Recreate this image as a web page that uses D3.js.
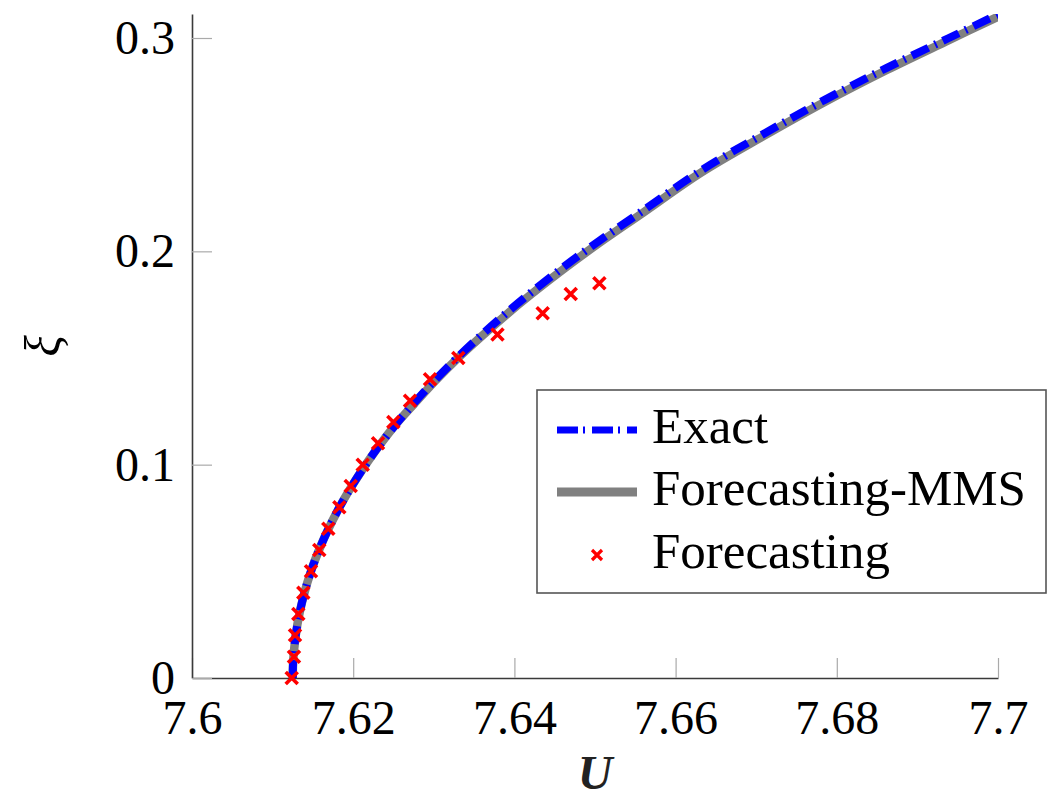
<!DOCTYPE html>
<html>
<head>
<meta charset="UTF-8">
<title>xi vs U</title>
<script src="https://cdn.jsdelivr.net/npm/d3@7"></script>
<style>
  body { margin: 0; background: #fff; }
  svg { display: block; font-family: "Liberation Serif", "Times New Roman", serif; }
</style>
</head>
<body>
<svg width="1047" height="801"></svg>
<script>
// values
const exactU  = [7.6125, 7.61252, 7.61263, 7.61307, 7.61381, 7.61485, 7.61598, 7.61694, 7.61815, 7.61935,
                 7.62102, 7.62286, 7.62510, 7.62757, 7.63024, 7.63314, 7.63597, 7.63897, 7.64216, 7.64622,
                 7.65055, 7.65592, 7.6632, 7.6709, 7.6785, 7.6862, 7.6939, 7.7000];
const exactXi = [0, 0.005, 0.012, 0.025, 0.038, 0.051, 0.062, 0.070, 0.079, 0.087,
                 0.097, 0.107, 0.118, 0.129, 0.140, 0.151, 0.161, 0.171, 0.181, 0.193,
                 0.205, 0.219, 0.238, 0.255, 0.271, 0.286, 0.300, 0.311];
const mmsU    = [7.6125, 7.61252, 7.61263, 7.61307, 7.61381, 7.61485, 7.61598, 7.61694, 7.61815, 7.61935,
                 7.62102, 7.62286, 7.62510, 7.62757, 7.63024, 7.63314, 7.63597, 7.63897, 7.64216, 7.64622,
                 7.65055, 7.65592, 7.6632, 7.6709, 7.6785, 7.6862, 7.6939, 7.7000];
const mmsXi   = [0, 0.005, 0.012, 0.025, 0.038, 0.051, 0.062, 0.070, 0.079, 0.087,
                 0.097, 0.107, 0.118, 0.1285, 0.1395, 0.1505, 0.1603, 0.1702, 0.1801, 0.1920,
                 0.2040, 0.2180, 0.2370, 0.2540, 0.2700, 0.2850, 0.2990, 0.3100];
const forecastU  = [7.61237, 7.61265, 7.61278, 7.61319, 7.61381, 7.61476, 7.61579, 7.61691, 7.61828, 7.61969,
                    7.62118, 7.62308, 7.62498, 7.62705, 7.62953, 7.63304, 7.63790, 7.64351, 7.64699, 7.65054];
const forecastXi = [0, 0.01, 0.02, 0.03, 0.04, 0.05, 0.06, 0.07, 0.08, 0.09,
                    0.10, 0.11, 0.12, 0.13, 0.14, 0.15, 0.161, 0.171, 0.180, 0.185];
const xTicks = [7.6, 7.62, 7.64, 7.66, 7.68, 7.7];
const yTicks = [0, 0.1, 0.2, 0.3];
const legendNames = ["Exact", "Forecasting-MMS", "Forecasting"];

const svg = d3.select("svg");
const plotLeft = 192, plotRight = 998, plotTop = 14, plotBottom = 678;

const x = d3.scaleLinear().domain([7.6, 7.7]).range([plotLeft, plotRight]);
const y = d3.scaleLinear().domain([0, 0.31125]).range([plotBottom, plotTop]);

const fmt = d => String(+d.toFixed(2));

// axes: ticks point inward
const xAxis = svg.append("g")
  .attr("transform", `translate(0,${plotBottom})`)
  .call(d3.axisBottom(x).tickValues(xTicks).tickSize(-20).tickSizeOuter(0).tickPadding(22).tickFormat(fmt));
const yAxis = svg.append("g")
  .attr("transform", `translate(${plotLeft},0)`)
  .call(d3.axisLeft(y).tickValues(yTicks).tickSize(-20).tickSizeOuter(0).tickPadding(17).tickFormat(fmt));

[xAxis, yAxis].forEach(ax => {
  ax.attr("font-family", null).attr("font-size", null);
  ax.select(".domain").attr("stroke", "#3a3a3a").attr("stroke-width", 1.6);
  ax.selectAll(".tick line").attr("stroke", "#aaa").attr("stroke-width", 1.2);
  ax.selectAll(".tick text").attr("fill", "#000").style("font-size", "48px");
});

svg.append("clipPath").attr("id", "plot-clip")
  .append("rect").attr("x", plotLeft).attr("y", plotTop)
  .attr("width", plotRight - plotLeft).attr("height", plotBottom - plotTop);

const line = d3.line()
  .x(d => x(d[0]))
  .y(d => y(d[1]))
  .curve(d3.curveCatmullRom);

const plot = svg.append("g").attr("clip-path", "url(#plot-clip)");

plot.append("path")
  .datum(d3.zip(mmsU, mmsXi))
  .attr("d", line)
  .attr("fill", "none")
  .attr("stroke", "#808080")
  .attr("stroke-width", 8.5);

plot.append("path")
  .datum(d3.zip(exactU, exactXi))
  .attr("d", line)
  .attr("fill", "none")
  .attr("stroke", "#0000ff")
  .attr("stroke-width", 8)
  .attr("stroke-dasharray", "18 7 2 7");

const cross = s => `M${-s},${-s}L${s},${s}M${-s},${s}L${s},${-s}`;

svg.append("g")
  .selectAll("path")
  .data(d3.zip(forecastU, forecastXi))
  .join("path")
  .attr("transform", d => `translate(${x(d[0])},${y(d[1])})`)
  .attr("d", cross(6))
  .attr("stroke", "#ff0000")
  .attr("stroke-width", 3.6)
  .attr("fill", "none");

// axis titles
svg.append("text")
  .attr("x", (plotLeft + plotRight) / 2)
  .attr("y", 789)
  .attr("text-anchor", "middle")
  .style("font-size", "48px")
  .style("font-style", "italic")
  .style("font-weight", "bold")
  .attr("fill", "#222")
  .text("U");

svg.append("text")
  .attr("transform", "translate(60,346) rotate(-90)")
  .attr("text-anchor", "middle")
  .style("font-size", "50px")
  .style("font-style", "italic")
  .text("ξ");

// legend
const legend = svg.append("g");
legend.append("rect")
  .attr("x", 537).attr("y", 390).attr("width", 509).attr("height", 203)
  .attr("fill", "#fff").attr("stroke", "#555").attr("stroke-width", 1.6);

const rowY = [430, 492, 555];
legend.append("line")
  .attr("x1", 557).attr("x2", 637).attr("y1", rowY[0]).attr("y2", rowY[0])
  .attr("stroke", "#0000ff").attr("stroke-width", 7).attr("stroke-dasharray", "21 5 2 7");
legend.append("line")
  .attr("x1", 557).attr("x2", 637).attr("y1", rowY[1]).attr("y2", rowY[1])
  .attr("stroke", "#808080").attr("stroke-width", 9);
legend.append("path")
  .attr("transform", `translate(597,${rowY[2]})`)
  .attr("d", cross(5))
  .attr("stroke", "#ff0000").attr("stroke-width", 3.2);

legend.selectAll("text.lbl")
  .data(legendNames)
  .join("text")
  .attr("class", "lbl")
  .attr("x", 652)
  .attr("y", (d, i) => rowY[i] + 13)
  .style("font-size", "51px")
  .text(d => d);
</script>
</body>
</html>
